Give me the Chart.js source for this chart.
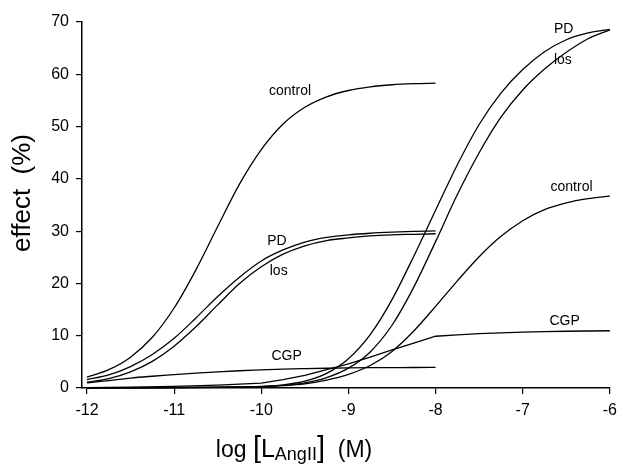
<!DOCTYPE html>
<html>
<head>
<meta charset="utf-8">
<script src="https://cdn.jsdelivr.net/npm/chart.js@4.4.1/dist/chart.umd.min.js"></script>
<style>
  html, body { margin: 0; padding: 0; background: #fff; }
</style>
</head>
<body>
<canvas id="chart" width="624" height="465"></canvas>
<script>
// log concentrations (M)
const xLeft = [-12, -11.75, -11.5, -11.25, -11, -10.75, -10.5, -10.25, -10,
  -9.75, -9.5, -9.25, -9, -8.75, -8.5, -8.25, -8];
const xRight = [-12, -11.5, -11, -10.5, -10, -9.75, -9.5, -9.25, -9, -8.75,
  -8.5, -8.25, -8, -7.75, -7.5, -7.25, -7, -6.75, -6.5, -6.25, -6];
const xTicks = [-12, -11, -10, -9, -8, -7, -6];

// effect (%) - left group
const controlLeft = [2.1, 3.5, 5.9, 9.7, 15.3, 22.6, 30.9, 39.0, 45.6, 50.5, 53.7, 55.7, 56.9, 57.6, 58.0, 58.2, 58.3];
const pdLeft = [1.6, 2.5, 4.1, 6.4, 9.5, 13.4, 17.5, 21.2, 24.3, 26.4, 27.9, 28.8, 29.3, 29.6, 29.8, 29.95, 30.05];
const losLeft = [1.1, 1.8, 3.1, 5.1, 8.0, 11.7, 15.9, 20.0, 23.2, 25.6, 27.2, 28.2, 28.7, 29.1, 29.3, 29.4, 29.5];
const cgpLeft = [1.0, 1.4, 1.9, 2.25, 2.55, 2.85, 3.1, 3.3, 3.45, 3.6, 3.7, 3.78, 3.84, 3.88, 3.9, 3.92, 3.93];

// effect (%) - right group
const pdRight = [0.0, 0.04, 0.1, 0.18, 0.3, 0.6, 1.3, 2.8, 5.6, 10.2, 16.9, 25.2, 34.0, 42.7, 50.4, 56.4, 60.9, 64.3, 66.6, 67.9, 68.6];
const losRight = [0.0, 0.03, 0.07, 0.13, 0.25, 0.5, 1.0, 2.0, 3.8, 6.9, 12.0, 19.3, 28.0, 37.0, 45.0, 51.8, 57.0, 61.0, 64.2, 66.8, 68.5];
const controlRight = [0.0, 0.03, 0.07, 0.13, 0.25, 0.45, 0.8, 1.5, 2.6, 4.3, 7.0, 10.9, 15.6, 20.5, 25.1, 29.0, 32.0, 34.1, 35.4, 36.2, 36.7];
const cgpRight = [0.05, 0.15, 0.3, 0.55, 0.95, 1.6, 2.4, 3.5, 4.6, 5.9, 7.3, 8.6, 9.9, 10.15, 10.4, 10.55, 10.7, 10.8, 10.85, 10.9, 10.95];

// curve names, anchored in data units
const curveLabels = [
  { text: 'control', x: -9.67, y: 56.7 },
  { text: 'PD', x: -9.82, y: 28.0 },
  { text: 'los', x: -9.80, y: 22.4 },
  { text: 'CGP', x: -9.71, y: 6.1 },
  { text: 'PD', x: -6.53, y: 68.6 },
  { text: 'los', x: -6.54, y: 62.7 },
  { text: 'control', x: -6.44, y: 38.5 },
  { text: 'CGP', x: -6.52, y: 12.8 }
];

const FONT = "'Liberation Sans', Arial, Helvetica, sans-serif";

function pairs(xs, ys) {
  return xs.map((x, i) => ({ x: x, y: ys[i] }));
}

function curve(xs, ys, smooth) {
  return {
    data: pairs(xs, ys),
    borderColor: '#000',
    borderWidth: 1.3,
    pointRadius: 0,
    fill: false,
    clip: 4,
    cubicInterpolationMode: smooth ? 'monotone' : 'default',
    tension: 0
  };
}

const textPlugin = {
  id: 'texts',
  afterDraw(chart) {
    const ctx = chart.ctx;
    const sx = chart.scales.x;
    const sy = chart.scales.y;
    ctx.save();
    ctx.fillStyle = '#000';

    // curve labels
    ctx.font = '14px ' + FONT;
    ctx.textAlign = 'center';
    ctx.textBaseline = 'middle';
    curveLabels.forEach(l => {
      ctx.fillText(l.text, sx.getPixelForValue(l.x), sy.getPixelForValue(l.y));
    });

    // y title
    ctx.save();
    ctx.translate(23, 193);
    ctx.rotate(-Math.PI / 2);
    ctx.font = '26px ' + FONT;
    ctx.fillText('effect  (%)', 0, 0);
    ctx.restore();

    // x title with subscript
    const parts = [
      { t: 'log ', f: '23px', dy: 0 },
      { t: '[', f: '29px', dy: 0 },
      { t: 'L', f: '25px', dy: 0 },
      { t: 'AngII', f: '18px', dy: 3 },
      { t: ']', f: '29px', dy: 0 },
      { t: '  (M)', f: '23px', dy: 0 }
    ];
    ctx.textAlign = 'left';
    ctx.textBaseline = 'alphabetic';
    let total = 0;
    parts.forEach(p => {
      ctx.font = p.f + ' ' + FONT;
      p.w = ctx.measureText(p.t).width;
      total += p.w;
    });
    let x = 294 - total / 2;
    const base = 457;
    parts.forEach(p => {
      ctx.font = p.f + ' ' + FONT;
      ctx.fillText(p.t, x, base + p.dy);
      x += p.w;
    });
    ctx.restore();
  }
};

new Chart(document.getElementById('chart'), {
  type: 'line',
  data: {
    datasets: [
      curve(xLeft, controlLeft, true),
      curve(xLeft, pdLeft, true),
      curve(xLeft, losLeft, true),
      curve(xLeft, cgpLeft, true),
      curve(xRight, pdRight, true),
      curve(xRight, losRight, true),
      curve(xRight, controlRight, true),
      curve(xRight, cgpRight, false)
    ]
  },
  options: {
    responsive: false,
    animation: false,
    devicePixelRatio: 1,
    layout: { padding: { top: 22, right: 10, left: 0, bottom: 0 } },
    plugins: {
      legend: { display: false },
      tooltip: { enabled: false }
    },
    scales: {
      x: {
        type: 'linear',
        min: -12.057,
        max: -6,
        afterBuildTicks: s => { s.ticks = xTicks.map(v => ({ value: v })); },
        afterFit: s => { s.height = 77; },
        ticks: {
          color: '#000',
          font: { size: 16, family: FONT },
          padding: 7,
          maxRotation: 0,
          autoSkip: false
        },
        grid: {
          drawOnChartArea: false,
          drawTicks: true,
          tickLength: 6,
          color: '#000',
          lineWidth: 1.2
        },
        border: { color: '#000', width: 1.5 }
      },
      y: {
        min: 0,
        max: 70,
        afterFit: s => { s.width = 82; },
        ticks: {
          stepSize: 10,
          color: '#000',
          font: { size: 16, family: FONT },
          padding: 7
        },
        grid: {
          drawOnChartArea: false,
          drawTicks: true,
          tickLength: 6,
          color: '#000',
          lineWidth: 1.2
        },
        border: { color: '#000', width: 1.5 }
      }
    }
  },
  plugins: [textPlugin]
});
</script>
</body>
</html>
